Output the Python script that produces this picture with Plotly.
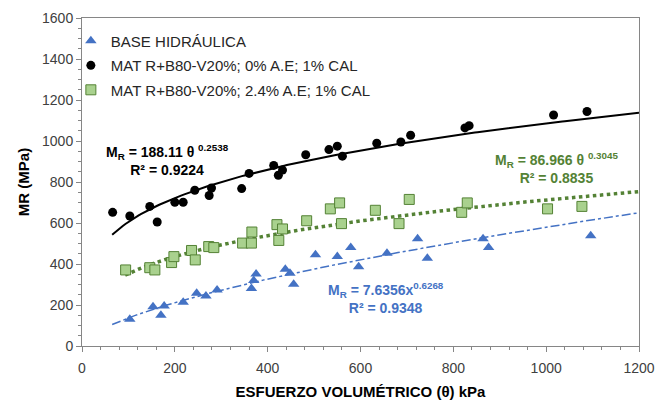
import numpy as np
import plotly.graph_objects as go

# ---------------- data ----------------
base_x = [103, 153, 170, 177, 218, 247, 267, 291, 365, 370, 375, 438, 448, 456, 503, 550, 579, 596, 657, 723, 744, 864, 876, 1096]
base_y = [131, 191, 150, 195, 213, 257, 244, 273, 281, 319, 351, 374, 355, 301, 445, 436, 480, 387, 453, 523, 428, 523, 480, 538]

mat0_x = [66, 103, 146, 162, 200, 218, 243, 274, 279, 344, 360, 413, 423, 432, 482, 532, 550, 561, 635, 687, 708, 825, 834, 1016, 1088]
mat0_y = [652, 634, 681, 605, 701, 701, 760, 734, 771, 768, 842, 881, 833, 858, 933, 958, 975, 926, 989, 995, 1028, 1064, 1075, 1127, 1144]

mat24_x = [94, 146, 157, 193, 198, 236, 244, 273, 284, 346, 365, 366, 420, 424, 432, 484, 535, 555, 559, 632, 683, 705, 818, 830, 1003, 1077]
mat24_y = [371, 382, 371, 407, 436, 466, 420, 485, 480, 502, 502, 556, 592, 515, 571, 611, 669, 698, 597, 662, 597, 715, 652, 698, 669, 681]

# trendline equations shown on the chart: y = a * x^b
fit_base = [7.6356, 0.6268]
fit_mat0 = [188.11, 0.2538]
fit_mat24 = [86.966, 0.3045]
fit_range_base = [65, 1200]
fit_range_mat0 = [65, 1200]
fit_range_mat24 = [93, 1200]

names = ["BASE HIDRÁULICA", "MAT R+B80-V20%; 0% A.E; 1% CAL", "MAT R+B80-V20%; 2.4% A.E; 1% CAL"]

x_ticks = [0, 200, 400, 600, 800, 1000, 1200]
y_ticks = [0, 200, 400, 600, 800, 1000, 1200, 1400, 1600]

# ---------------- style ----------------
FONT = "Arial, 'Liberation Sans', sans-serif"
BLUE = "#4472C4"
GREEN_LINE = "#548235"
GREEN_FILL = "#A9D18E"
AXIS = "#868686"
TICKFONT = "#404040"


def trend(coef, rng):
    xs = np.linspace(rng[0], rng[1], 200)
    return xs, coef[0] * xs ** coef[1]


fig = go.Figure()

# trend lines
tx, ty = trend(fit_base, fit_range_base)
fig.add_trace(go.Scatter(x=tx, y=ty, mode="lines", showlegend=False, hoverinfo="skip",
                         line=dict(color=BLUE, width=1.5, dash="dashdot")))
tx, ty = trend(fit_mat24, fit_range_mat24)
fig.add_trace(go.Scatter(x=tx, y=ty, mode="lines", showlegend=False, hoverinfo="skip",
                         line=dict(color=GREEN_LINE, width=3.5, dash="dot")))
tx, ty = trend(fit_mat0, fit_range_mat0)
fig.add_trace(go.Scatter(x=tx, y=ty, mode="lines", showlegend=False, hoverinfo="skip",
                         line=dict(color="black", width=2)))

# markers
fig.add_trace(go.Scatter(x=base_x, y=base_y, mode="markers", name=names[0], legendgroup="a",
                         marker=dict(symbol="triangle-up", size=10, color=BLUE)))
fig.add_trace(go.Scatter(x=mat0_x, y=mat0_y, mode="markers", name=names[1], legendgroup="b",
                         marker=dict(symbol="circle", size=9, color="black")))
fig.add_trace(go.Scatter(x=mat24_x, y=mat24_y, mode="markers", name=names[2], legendgroup="c",
                         marker=dict(symbol="square", size=10, color=GREEN_FILL,
                                     line=dict(color=GREEN_LINE, width=1))))

annots = [
    dict(x=185, y=905, text="M<sub>R</sub> = 188.11 θ <sup>0.2538</sup><br>R² = 0.9224", color="black"),
    dict(x=1023, y=866, text="M<sub>R</sub> = 86.966 θ <sup>0.3045</sup><br>R² = 0.8835", color=GREEN_LINE),
    dict(x=654, y=234, text="M<sub>R</sub> = 7.6356x<sup>0.6268</sup><br>R² = 0.9348", color=BLUE),
]
for a in annots:
    fig.add_annotation(x=a["x"], y=a["y"], xref="x", yref="y", text="<b>" + a["text"] + "</b>",
                       showarrow=False, align="center",
                       font=dict(family=FONT, size=14, color=a["color"]))

axis_common = dict(
    showline=True, linecolor=AXIS, linewidth=1, mirror=True, automargin=False,
    ticks="outside", ticklen=5, tickcolor=AXIS, showgrid=False, zeroline=False,
    tickfont=dict(family=FONT, size=14, color=TICKFONT),
)

fig.update_xaxes(range=[0, 1200], tickvals=x_ticks, ticktext=[str(v) for v in x_ticks],
                 minor=dict(dtick=40, tick0=0, ticks="outside", ticklen=3, tickcolor=AXIS),
                 ticklabelstandoff=4,
                 title=dict(text="<b>ESFUERZO VOLUMÉTRICO (θ) kPa</b>", standoff=13,
                            font=dict(family=FONT, size=15, color="black")),
                 **axis_common)
fig.update_yaxes(range=[0, 1600], tickvals=y_ticks, ticktext=[str(v) for v in y_ticks],
                 minor=dict(dtick=50, tick0=0, ticks="outside", ticklen=3, tickcolor=AXIS),
                 title=dict(text="<b>MR (MPa)</b>", standoff=8,
                            font=dict(family=FONT, size=15, color="black")),
                 **axis_common)

fig.update_layout(
    width=657, height=400,
    margin=dict(l=82, r=18, t=18, b=54, autoexpand=False),
    paper_bgcolor="white", plot_bgcolor="white",
    font=dict(family=FONT),
    legend=dict(x=-0.02, y=0.98, xanchor="left", yanchor="top", bgcolor="rgba(0,0,0,0)",
                font=dict(family=FONT, size=15, color="#262626"),
                traceorder="grouped", tracegroupgap=2, itemwidth=30),
)

fig.write_html("out.html")
